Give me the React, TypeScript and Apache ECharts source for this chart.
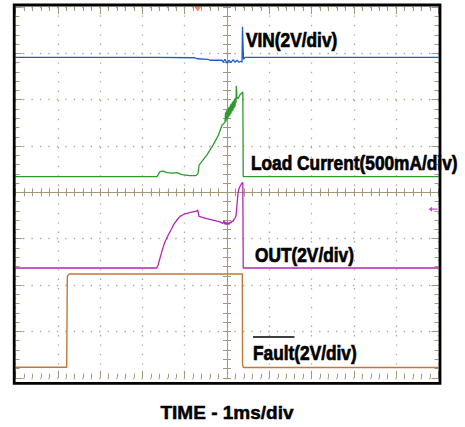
import React, { useEffect, useRef } from "react";
import * as echarts from "echarts";

// Time axis in divisions (1 ms/div), 0 = screen centre; amplitude in divisions (0 = centre line)
const vinT = [-5, -1.655, -0.757, -0.709, -0.449, -0.402, -0.118, -0.095, -0.047, 0, 0.047, 0.095, 0.142, 0.189, 0.236, 0.284, 0.331, 0.355, 0.366, 0.39, 0.426, 5];
const vinV = [2.915, 2.915, 2.905, 2.883, 2.872, 2.851, 2.851, 2.809, 2.872, 2.787, 2.851, 2.798, 2.862, 2.809, 2.851, 2.809, 2.83, 2.809, 3.574, 2.872, 2.915, 2.915];

const loadT = [-5, -1.655, -1.584, -1.513, -1.418, -1.3, -1.182, -1.064, -0.875, -0.733, -0.686, -0.662, -0.638, -0.473, -0.331, -0.213, -0.118,
  -0.047, -0.035, -0.024, -0.012, 0, 0.012, 0.024, 0.035, 0.047, 0.059, 0.071, 0.083, 0.095, 0.106, 0.118, 0.13, 0.142, 0.154, 0.165, 0.177, 0.189, 0.201, 0.213, 0.22, 0.236,
  0.26, 0.307, 0.355, 0.374, 0.383, 0.426, 5];
const loadV = [0.34, 0.34, 0.447, 0.457, 0.426, 0.415, 0.426, 0.383, 0.362, 0.362, 0.404, 0.574, 0.617, 0.809, 1.021, 1.213, 1.447,
  1.511, 1.723, 1.532, 1.766, 1.574, 1.787, 1.596, 1.83, 1.638, 1.851, 1.66, 1.894, 1.702, 1.915, 1.745, 1.957, 1.766, 1.979, 1.809, 2.021, 1.851, 2.043, 1.936, 2.298, 2.043,
  2.021, 2.106, 2.149, 2.17, 0.34, 0.34, 0.34];

const outT = [-5, -1.662, -1.624, -1.584, -1.506, -1.466, -1.388, -1.307, -1.27, -1.189, -1.111, -0.993, -0.835, -0.716, -0.693, -0.662, -0.48, -0.165,
  -0.095, -0.071, -0.047, -0.024, 0, 0.024, 0.047, 0.071, 0.095, 0.118, 0.142, 0.165, 0.189, 0.213, 0.236, 0.26, 0.284, 0.307, 0.355, 0.374, 0.383, 5];
const outV = [-1.632, -1.632, -1.56, -1.419, -1.17, -1.064, -0.921, -0.781, -0.709, -0.602, -0.517, -0.462, -0.426, -0.404, -0.377, -0.517, -0.568, -0.638,
  -0.67, -0.617, -0.691, -0.638, -0.702, -0.649, -0.691, -0.638, -0.66, -0.617, -0.628, -0.585, -0.553, -0.511, -0.277, -0.021, 0.085, 0.128, 0.202, 0.213, -1.632, -1.632];

const faultT = [-5, -3.79, -3.775, -3.766, -3.712, 0.362, 0.368, 0.39, 5];
const faultV = [-3.772, -3.772, -1.83, -1.794, -1.76, -1.76, -3.72, -3.78, -3.78];

const triggerPos = [[-0.693, 4]];
const refMarker = [[4.87, -0.362]];

const traceLabels = ["VIN(2V/div)", "Load Current(500mA/div)", "OUT(2V/div)", "Fault(2V/div)"];
const timeLabel = "TIME - 1ms/div";

const zip = (t: number[], v: number[]) => t.map((x, i) => [x, v[i]]);

const GRID_C = "#b4aa92";
const TICK_C = "#a4987a";
const FONT = '"Liberation Sans", Arial, Helvetica, sans-serif';

function xAx(extra: any) {
  return {
    type: "value", min: -5, max: 5, gridIndex: 0,
    axisLabel: { show: false }, splitLine: { show: false },
    axisLine: { show: false, onZero: false }, axisTick: { show: false },
    ...extra,
  };
}
function yAx(extra: any) {
  return {
    type: "value", min: -4, max: 4, gridIndex: 0,
    axisLabel: { show: false }, splitLine: { show: false },
    axisLine: { show: false, onZero: false }, axisTick: { show: false },
    ...extra,
  };
}
const tick = (len: number, inside: boolean) => ({ show: true, inside, length: len, lineStyle: { color: TICK_C, width: 1 } });

export default function App() {
  const ref = useRef<HTMLDivElement>(null);
  useEffect(() => {
    if (!ref.current) return;
    const chart = echarts.init(ref.current, null, { renderer: "svg" });
    const lbl = (text: string, x: number, y: number) => ({
      type: "text", x, y, scaleY: 1.2, z: 30,
      style: {
        text, fill: "#000", stroke: "#000", lineWidth: 0.6,
        fontSize: 17.3, fontWeight: "bold", fontFamily: FONT,
        align: "left", verticalAlign: "middle", textAlign: "left", textVerticalAlign: "middle",
      },
    });
    chart.setOption({
      animation: false,
      backgroundColor: "#fff",
      grid: { left: 15.5, top: 7, width: 423, height: 376, show: false },
      xAxis: [
        xAx({
          interval: 1,
          splitLine: { show: true, lineStyle: { color: GRID_C, width: 1.3, type: [1.4, 8.0], dashOffset: 0.7 } },
          name: timeLabel, nameLocation: "middle", nameGap: 25,
          nameTextStyle: { fontSize: 19, fontWeight: "bold", color: "#000", fontFamily: FONT, textBorderColor: "#000", textBorderWidth: 0.5 },
        }),
        xAx({ position: "top", interval: 0.2, axisTick: tick(4, true) }),
        xAx({ position: "bottom", interval: 0.2, axisTick: tick(4, true) }),
        xAx({ position: "top", interval: 1, axisTick: tick(7, true) }),
        xAx({ position: "bottom", interval: 1, axisTick: tick(7, true) }),
        xAx({ position: "bottom", interval: 0.2, axisTick: tick(4, false), axisLine: { show: true, onZero: true, onZeroAxisIndex: 0, lineStyle: { color: TICK_C, width: 1 } } }),
        xAx({ position: "bottom", interval: 0.2, axisTick: tick(4, true), axisLine: { show: false, onZero: true, onZeroAxisIndex: 0 } }),
      ],
      yAxis: [
        yAx({
          interval: 1,
          splitLine: { show: true, lineStyle: { color: GRID_C, width: 1.3, type: [1.4, 7.06], dashOffset: 0.7 } },
        }),
        yAx({ position: "left", interval: 0.2, axisTick: tick(4, true) }),
        yAx({ position: "right", interval: 0.2, axisTick: tick(4, true) }),
        yAx({ position: "left", interval: 1, axisTick: tick(7, true) }),
        yAx({ position: "right", interval: 1, axisTick: tick(7, true) }),
        yAx({ position: "left", interval: 0.2, axisTick: tick(4, false), axisLine: { show: true, onZero: true, onZeroAxisIndex: 0, lineStyle: { color: TICK_C, width: 1 } } }),
        yAx({ position: "left", interval: 0.2, axisTick: tick(4, true), axisLine: { show: false, onZero: true, onZeroAxisIndex: 0 } }),
      ],
      series: [
        { name: "Fault", type: "line", xAxisIndex: 0, yAxisIndex: 0, data: zip(faultT, faultV), symbol: "none", silent: true, z: 3, lineStyle: { color: "#c0783a", width: 1.4 } },
        { name: "OUT", type: "line", xAxisIndex: 0, yAxisIndex: 0, data: zip(outT, outV), symbol: "none", silent: true, z: 4, lineStyle: { color: "#b424b4", width: 1.3 } },
        { name: "Load Current", type: "line", xAxisIndex: 0, yAxisIndex: 0, data: zip(loadT, loadV), symbol: "none", silent: true, z: 5, lineStyle: { color: "#2e9a2e", width: 1.3 } },
        { name: "VIN", type: "line", xAxisIndex: 0, yAxisIndex: 0, data: zip(vinT, vinV), symbol: "none", silent: true, z: 6, lineStyle: { color: "#1f5ccc", width: 1.3 } },
        { name: "trigger", type: "scatter", xAxisIndex: 0, yAxisIndex: 0, data: triggerPos, symbol: "triangle", symbolRotate: 180, symbolSize: [7, 5], symbolOffset: [0, 2], silent: true, z: 20, itemStyle: { color: "#f26b2a" } },
        { name: "ref", type: "scatter", xAxisIndex: 0, yAxisIndex: 0, data: refMarker, symbol: "path://M0,3L4,0L4,2.3L10,2.3L10,3.7L4,3.7L4,6Z", symbolSize: [9, 5], silent: true, z: 20, itemStyle: { color: "#b424b4" } },
      ],
      graphic: [
        { type: "rect", z: 25, shape: { x: 14.2, y: 5, width: 425.8, height: 378.4 }, style: { fill: "none", stroke: "#000", lineWidth: 2.8 } },
        lbl(traceLabels[0], 246, 40),
        lbl(traceLabels[1], 251, 162.5),
        lbl(traceLabels[2], 255, 254.5),
        lbl(traceLabels[3], 253, 352.5),
        { type: "line", z: 30, shape: { x1: 253, y1: 337, x2: 294.5, y2: 337 }, style: { stroke: "#000", lineWidth: 1.4 } },
      ],
    });
    return () => chart.dispose();
  }, []);
  return <div ref={ref} style={{ position: "absolute", left: 0, top: 0, width: 465, height: 427, background: "#fff" }} />;
}
